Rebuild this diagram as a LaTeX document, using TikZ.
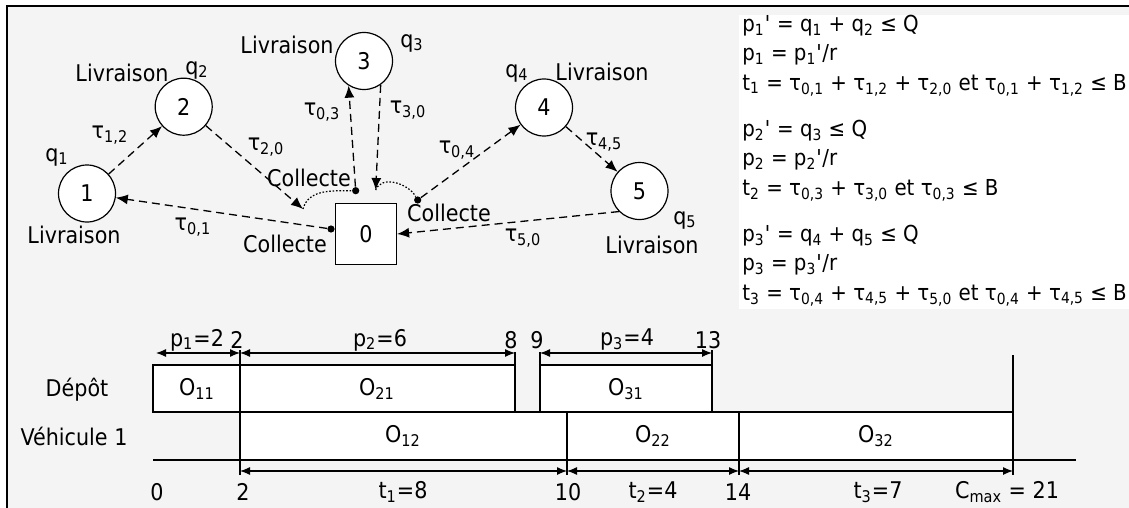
\documentclass[tikz,border=0pt]{standalone}
\usepackage{fontspec}
\setmainfont{DejaVu Sans}[FakeStretch=0.9]
\usetikzlibrary{positioning,arrows.meta}
\definecolor{bggray}{HTML}{F4F4F4}
\newcommand\idx[1]{\textsubscript{#1}}
\newcommand\tq{\textquotesingle}

\begin{document}
\begin{tikzpicture}[x=0.5pt,y=-0.5pt,on grid,
  font=\fontsize{11.5}{13}\selectfont,
  client/.style={circle,draw,fill=white,minimum size=28.5pt,inner sep=0pt,line width=0.6pt},
  depot/.style={rectangle,draw,fill=white,minimum size=30.5pt,inner sep=0pt,line width=0.6pt},
  blt/.style={circle,fill,minimum size=3.6pt,inner sep=0pt},
  dsh/.style={dash pattern=on 4pt off 2.5pt,line width=0.65pt,-{Latex[length=6pt,width=5pt]}},
  arcline/.style={dash pattern=on 0.8pt off 0.9pt,line width=0.6pt},
  gbox/.style={draw,fill=white,line width=0.6pt},
  dim/.style={line width=0.6pt,{Latex[length=5pt,width=4pt]}-{Latex[length=5pt,width=4pt]}}]
\useasboundingbox (0,0) rectangle (1129,508);
\fill[bggray] (7,6) rectangle (1129,508);
\draw[line width=1pt] (7,508) -- (7,6) -- (1129,6);
\fill[white] (739,15) rectangle (1129,309);

\node[depot] (n0) at (366,234) {0};
\node[client, above left=20.25pt and 139.5pt of n0] (n1) {1};
\node[client, above right=43.4pt and 48.35pt of n1] (n2) {2};
\node[client, above left=86.5pt and 1pt of n0] (n3) {3};
\node[client, above right=63.25pt and 89pt of n0] (n4) {4};
\node[client, below right=41.75pt and 47.75pt of n4] (n5) {5};

\node[above left=18.25pt and 15pt of n1] (q1) {q\idx{1}};
\node[below left=20.75pt and 6.5pt of n1] (l1) {Livraison};
\node[above left=16.85pt and 30.85pt of n2] (l2) {Livraison};
\node[above right=18.35pt and 6.65pt of n2] (q2) {q\idx{2}};
\node[above left=8pt and 38.5pt of n3] (l3) {Livraison};
\node[above right=9pt and 24pt of n3] (q3) {q\idx{3}};
\node[above left=17.25pt and 13.5pt of n4] (q4) {q\idx{4}};
\node[above right=17.75pt and 29pt of n4] (l4) {Livraison};
\node[below right=14.5pt and 22.75pt of n5] (q5) {q\idx{5}};
\node[below right=27pt and 6.25pt of n5] (l5) {Livraison};

\node (t12) at (110,135) {τ\idx{1,2}};
\node (t20) at (266,147) {τ\idx{2,0}};
\node (t03) at (322,112) {τ\idx{0,3}};
\node (t30) at (408,110) {τ\idx{3,0}};
\node (t01) at (193,227) {τ\idx{0,1}};
\node (t04) at (457,150) {τ\idx{0,4}};
\node (t45) at (604,142) {τ\idx{4,5}};
\node (t50) at (523,238) {τ\idx{5,0}};

\node (c1) at (309,178) {Collecte};
\node (c2) at (449,213) {Collecte};
\node (c3) at (285,244) {Collecte};

\node[blt] (b1) at (331,229) {};
\node[blt] (b3) at (355.7,190.7) {};
\node[blt] (b4) at (417.7,200) {};
\coordinate (a2) at (303,209);
\coordinate (a3) at (375.7,190);

\draw[dsh] (b1) -- (n1);
\draw[dsh] (n1) -- (n2);
\draw[dsh] (n2) -- (a2);
\draw[arcline] (a2) to[out=75,in=180] (b3);
\draw[dsh] (b3) -- (n3.238);
\draw[dsh] (n3.305) -- (a3);
\draw[arcline] (a3) to[out=70,in=120] (b4);
\draw[dsh] (b4) -- (n4);
\draw[dsh] (n4) -- (n5);
\draw[dsh] (n5.225) -- (n0.east);

\node[anchor=north west,align=left,inner sep=0pt,font=\fontsize{11}{14.6}\selectfont] (eqs) at (742,15) {%
p\idx{1}\tq{} = q\idx{1} + q\idx{2} ≤ Q\\
p\idx{1} = p\idx{1}\tq/r\\
t\idx{1} = τ\idx{0,1} + τ\idx{1,2} + τ\idx{2,0} et τ\idx{0,1} + τ\idx{1,2} ≤ B\\[8.7pt]
p\idx{2}\tq{} = q\idx{3} ≤ Q\\
p\idx{2} = p\idx{2}\tq/r\\
t\idx{2} = τ\idx{0,3} + τ\idx{3,0} et τ\idx{0,3} ≤ B\\[8.7pt]
p\idx{3}\tq{} = q\idx{4} + q\idx{5} ≤ Q\\
p\idx{3} = p\idx{3}\tq/r\\
t\idx{3} = τ\idx{0,4} + τ\idx{4,5} + τ\idx{5,0} et τ\idx{0,4} + τ\idx{4,5} ≤ B};

\draw[gbox] (153,365) rectangle (240,412);
\draw[gbox] (240,365) rectangle (515,412);
\draw[gbox] (540,365) rectangle (712,412);
\draw[gbox] (240,412) rectangle (567,460);
\draw[gbox] (567,412) rectangle (739,460);
\draw[gbox] (739,412) rectangle (1013,460);
\draw[line width=0.6pt] (240,350) -- (240,475) (515,352) -- (515,365) (540,352) -- (540,365)
  (712,350) -- (712,365) (567,460) -- (567,475) (739,460) -- (739,475) (1013,355) -- (1013,475);
\draw[line width=1pt] (153,460) -- (1076,460);
\draw[dim] (156,353) -- (240,353);
\draw[dim] (240,353) -- (515,353);
\draw[dim] (540,353) -- (712,353);
\draw[dim] (240,471) -- (567,471);
\draw[dim] (567,471) -- (739,471);
\draw[dim] (739,471) -- (1013,471);

\node (dep) at (77,390) {Dépôt};
\node (veh) at (74,436) {Véhicule 1};
\node (o11) at (197,389) {O\idx{11}};
\node (o21) at (377,389) {O\idx{21}};
\node (o31) at (626,389) {O\idx{31}};
\node (o12) at (403,436) {O\idx{12}};
\node (o22) at (653,436) {O\idx{22}};
\node (o32) at (876,436) {O\idx{32}};

\node (p1) at (197,340) {p\idx{1}=2};
\node (m2a) at (237,340) {2};
\node (p2) at (380,340) {p\idx{2}=6};
\node (m8) at (511,340) {8};
\node (m9) at (537,340) {9};
\node (p3) at (627,340) {p\idx{3}=4};
\node (m13) at (708,340) {13};

\node (m0) at (157,492) {0};
\node (m2b) at (243,492) {2};
\node (tt1) at (403,492) {t\idx{1}=8};
\node (m10) at (568,492) {10};
\node (tt2) at (653,492) {t\idx{2}=4};
\node (m14) at (738,492) {14};
\node (tt3) at (878,492) {t\idx{3}=7};
\node (cmax) at (1007,492) {C\idx{max} = 21};
\end{tikzpicture}
\end{document}
